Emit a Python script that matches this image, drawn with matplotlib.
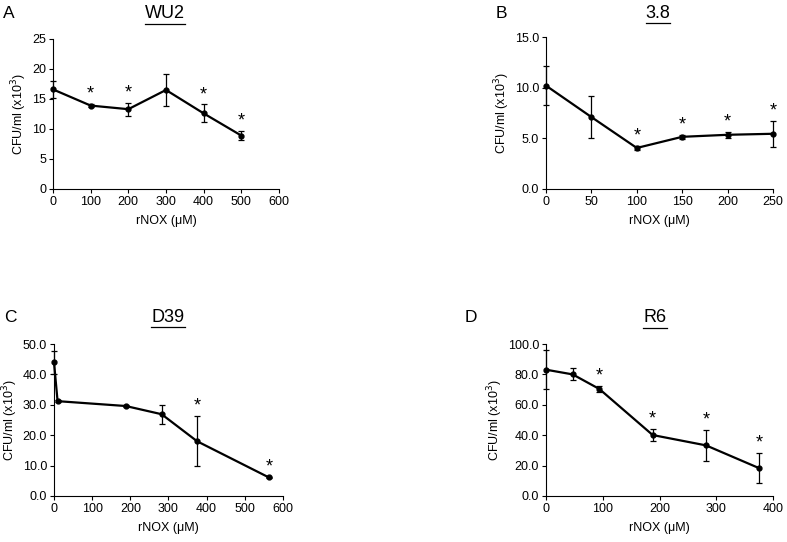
from matplotlib import pyplot as plt
from matplotlib.lines import Line2D
import numpy as np

plt.rcParams['font.family'] = ['Liberation Sans', 'DejaVu Sans']

# panel A - WU2
wu2_x = [0, 100, 200, 300, 400, 500]
wu2_y = [16.6, 13.9, 13.3, 16.5, 12.6, 8.9]
wu2_err = [1.4, 0.3, 1.1, 2.7, 1.5, 0.8]
wu2_star = [False, True, True, False, True, True]

# panel B - 3.8
s38_x = [0, 50, 100, 150, 200, 250]
s38_y = [10.2, 7.1, 4.05, 5.15, 5.35, 5.45]
s38_err = [1.9, 2.1, 0.2, 0.2, 0.3, 1.3]
s38_star = [False, False, True, True, True, True]

# panel C - D39
d39_x = [0, 9.4, 188, 282, 375, 563]
d39_y = [44.0, 31.2, 29.6, 26.9, 18.0, 6.1]
d39_err = [3.8, 0.4, 0.3, 3.1, 8.2, 0.3]
d39_star = [False, False, False, False, True, True]

# panel D - R6
r6_x = [0, 47, 94, 188, 282, 375]
r6_y = [83.1, 80.0, 70.4, 40.1, 33.3, 18.4]
r6_err = [13.0, 4.0, 2.0, 4.0, 10.0, 10.0]
r6_star = [False, False, True, True, True, True]

panels = [
    ("A", "WU2", wu2_x, wu2_y, wu2_err, wu2_star, (0, 600, 100), (0, 25, 5), "%d",
     [0.0673, 0.6513, 0.2872, 0.2768], (3, 14), (165, 14)),
    ("B", "3.8", s38_x, s38_y, s38_err, s38_star, (0, 250, 50), (0, 15, 5), "%.1f",
     [0.6938, 0.6513, 0.2884, 0.2804], (496, 13), (658, 13)),
    ("C", "D39", d39_x, d39_y, d39_err, d39_star, (0, 600, 100), (0, 50, 10), "%.1f",
     [0.0686, 0.0849, 0.2910, 0.2804], (4, 318), (168, 317)),
    ("D", "R6", r6_x, r6_y, r6_err, r6_star, (0, 400, 100), (0, 100, 20), "%.1f",
     [0.6938, 0.0849, 0.2884, 0.2804], (465, 318), (655, 318)),
]

W, H = 787, 542
fig = plt.figure(figsize=(W / 100, H / 100), dpi=100)

titles = []
for letter, name, x, y, err, star, xt, yt, fmt, pos, lpos, tpos in panels:
    ax = fig.add_axes(pos)
    ax.errorbar(x, y, yerr=err, color="black", lw=1.6, marker="o", markersize=3.5,
                elinewidth=0.9, capsize=2.4, capthick=0.9, clip_on=False, zorder=3)
    for xi, yi, ei, s in zip(x, y, err, star):
        if s:
            ax.annotate("*", (xi, yi + ei), xytext=(0, 1), textcoords="offset points",
                        ha="center", va="bottom", fontsize=13)
    ax.set_xlim(xt[0], xt[1])
    ax.set_ylim(yt[0], yt[1])
    ax.set_xticks(np.arange(xt[0], xt[1] + 1, xt[2]))
    ax.set_yticks(np.arange(yt[0], yt[1] + 0.01, yt[2]))
    ax.set_yticklabels([fmt % v for v in ax.get_yticks()])
    ax.spines["top"].set_visible(False)
    ax.spines["right"].set_visible(False)
    ax.tick_params(direction="out", length=3, width=0.8, labelsize=9, pad=2)
    ax.set_xlabel("rNOX (\u03bcM)", fontsize=9, labelpad=5)
    ax.set_ylabel("CFU/ml (x10$^3$)", fontsize=9, labelpad=2)
    fig.text(lpos[0] / W, 1 - lpos[1] / H, letter, fontsize=12.5, ha="left", va="center")
    titles.append(fig.text(tpos[0] / W, 1 - tpos[1] / H, name, fontsize=13,
                           ha="center", va="center"))

# underline the strain names
fig.canvas.draw()
r = fig.canvas.get_renderer()
for t in titles:
    bb = t.get_window_extent(r)
    yline = bb.y0 - 1
    fig.add_artist(Line2D([bb.x0 / W, bb.x1 / W], [yline / H, yline / H],
                          color="black", lw=0.9, transform=fig.transFigure))

fig.savefig("out.png", dpi=100)
